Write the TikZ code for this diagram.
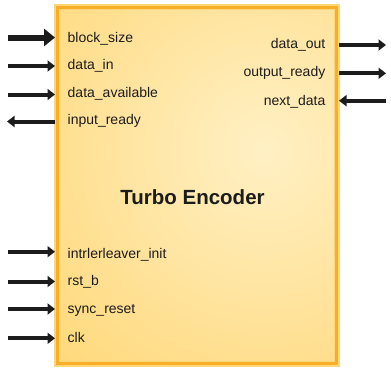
\documentclass[tikz,border=0pt]{standalone}
\usepackage{fontspec}
\setmainfont{Liberation Sans}
\usetikzlibrary{arrows.meta}
\definecolor{ink}{HTML}{1C1C1C}
\definecolor{boxedge}{HTML}{F8AE26}
\definecolor{boxhalo}{HTML}{FFD67A}
\definecolor{filldark}{HTML}{FFC43A}
\definecolor{filllight}{HTML}{FFF0C4}
\tikzset{
  sig/.style={draw=ink, line width=4pt, -{Triangle[length=7.5pt,width=11pt]}},
  bigsig/.style={draw=ink, line width=6pt, -{Triangle[length=11pt,width=17pt]}},
  lbl/.style={font=\fontsize{14}{16}\selectfont, text=ink, inner sep=0pt},
  ttl/.style={font=\fontsize{20.5}{24}\selectfont\bfseries, text=ink, inner sep=0pt}
}
\begin{document}
\begin{tikzpicture}[x=1pt,y=-1pt]
\useasboundingbox (0,0) rectangle (391,372);
% box
\node[draw=none, minimum width=279pt, minimum height=356pt, inner sep=0pt] (enc) at (197,185.5) {};
\fill[filldark] (enc.north west) rectangle (enc.south east);
\begin{scope}
  \clip (enc.north west) rectangle (enc.south east);
  \shade[inner color=filllight, outer color=filldark] (265,150) circle (560);
\end{scope}
\draw[boxhalo, line width=6pt] (enc.north west) rectangle (enc.south east);
\draw[boxedge, line width=3.5pt] (enc.north west) rectangle (enc.south east);
% title
\node[ttl, anchor=base] (title) at (192.5,204.3) {Turbo Encoder};
% left labels
\node[lbl, anchor=base west] (bs) at (67.5,42.8) {block\_size};
\node[lbl, anchor=base west] (di) at (67.5,69.5) {data\_in};
\node[lbl, anchor=base west] (da) at (67.5,97.3) {data\_available};
\node[lbl, anchor=base west] (ir) at (67.5,124) {input\_ready};
\node[lbl, anchor=base west] (ii) at (67.5,258.3) {intrlerleaver\_init};
\node[lbl, anchor=base west] (rb) at (67.5,285.3) {rst\_b};
\node[lbl, anchor=base west] (sr) at (67.5,313.3) {sync\_reset};
\node[lbl, anchor=base west] (ck) at (67.5,342.3) {clk};
% right labels
\node[lbl, anchor=base east] (do) at (325.5,48.3) {data\_out};
\node[lbl, anchor=base east] (or) at (325.5,76.3) {output\_ready};
\node[lbl, anchor=base east] (nd) at (325.5,105.3) {next\_data};
% arrow end coordinates
\coordinate (bsA) at (8,37.5);   \coordinate (bsB) at (55,37.5);
\coordinate (diA) at (8,66);     \coordinate (diB) at (55,66);
\coordinate (daA) at (8,94.5);   \coordinate (daB) at (55,94.5);
\coordinate (irA) at (55,121.5); \coordinate (irB) at (7,121.5);
\coordinate (iiA) at (8,251.7);  \coordinate (iiB) at (55,251.7);
\coordinate (rbA) at (8,281.5);  \coordinate (rbB) at (55,281.5);
\coordinate (srA) at (8,309);    \coordinate (srB) at (55,309);
\coordinate (ckA) at (8,338.3);  \coordinate (ckB) at (55,338.3);
\coordinate (doA) at (339,45);   \coordinate (doB) at (386,45);
\coordinate (orA) at (339,73.3); \coordinate (orB) at (386,73.3);
\coordinate (ndA) at (386,100.7);\coordinate (ndB) at (339,100.7);
% arrows
\draw[bigsig] (bsA) -- (bsB);
\draw[sig] (diA) -- (diB);
\draw[sig] (daA) -- (daB);
\draw[sig] (irA) -- (irB);
\draw[sig] (iiA) -- (iiB);
\draw[sig] (rbA) -- (rbB);
\draw[sig] (srA) -- (srB);
\draw[sig] (ckA) -- (ckB);
\draw[sig] (doA) -- (doB);
\draw[sig] (orA) -- (orB);
\draw[sig] (ndA) -- (ndB);
\end{tikzpicture}
\end{document}
